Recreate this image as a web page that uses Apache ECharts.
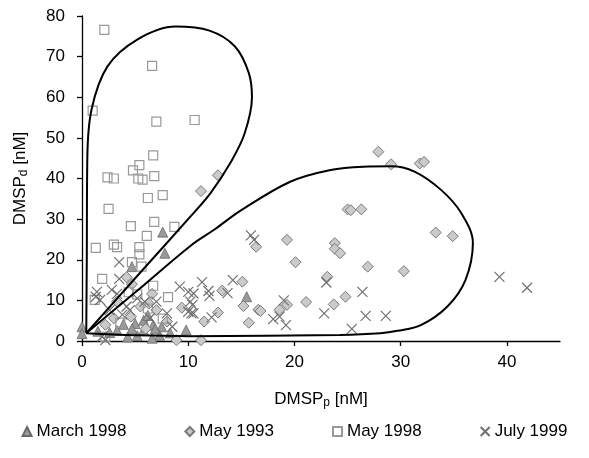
<!DOCTYPE html>
<html>
<head>
<meta charset="utf-8">
<script src="https://cdn.jsdelivr.net/npm/echarts@6/dist/echarts.min.js"></script>
<style>
	html,body{margin:0;padding:0;background:#fff;}
	#chart{width:589px;height:458px;}
</style>
</head>
<body>
<div id="chart"></div>
<script>
// 数据 [DMSPp, DMSPd]
const march1998 = [
	[0,3.5],[0,1.8],[3.9,4.1],[5.0,4.3],[5.8,5.1],[6.7,3.9],[7.5,3.5],[9.8,2.7],[2.6,2.1],[5.2,1.3],
	[7.3,1.4],[5.8,2.6],[6.6,0.7],[4.7,3.0],[7.6,26.8],[7.8,21.6],[4.7,18.3],[15.5,10.9],[4.3,1.0],[6.9,3.0],
	[8.3,2.0],[3.3,2.6],[1.5,2.4],[6.2,6.3]
];
const may1993 = [
	[27.9,46.6],[29.1,43.5],[31.8,43.7],[32.2,44.1],[12.8,40.8],[11.2,36.9],[25.0,32.4],[25.3,32.2],[26.3,32.4],[33.3,26.7],
	[34.9,25.8],[19.3,24.9],[16.4,23.2],[23.8,24.1],[23.8,22.7],[24.3,21.6],[20.1,19.4],[26.9,18.3],[30.3,17.2],[23.1,15.8],
	[15.1,14.6],[13.2,12.4],[24.8,10.9],[21.1,9.6],[23.7,9.0],[15.2,8.6],[12.8,7.0],[16.6,7.7],[18.6,7.7],[19.3,8.9],
	[11.5,4.8],[15.7,4.5],[11.2,0.2],[8.9,0.2],[4.2,15.7],[4.7,14.0],[6.6,11.6],[3.3,9.7],[5.5,8.5],[7.0,7.6],
	[4.6,6.0],[3.0,5.6],[8.0,4.8],[6.0,3.0],[9.4,8.2],[2.2,4.0],[16.8,7.4],[6.3,9.2]
];
const may1998 = [
	[2.1,76.6],[6.6,67.7],[1.0,56.7],[7.0,54.0],[10.6,54.4],[6.7,45.7],[5.4,43.3],[4.8,42.0],[2.4,40.3],[3.0,40.0],
	[5.3,40.0],[5.7,39.7],[6.8,40.6],[6.2,35.2],[7.6,35.9],[2.5,32.5],[4.6,28.3],[6.8,29.3],[6.1,25.9],[8.7,28.1],
	[1.3,22.9],[3.0,23.7],[3.3,23.1],[5.4,23.1],[5.4,21.3],[4.7,19.4],[1.9,15.3],[1.2,10.1],[5.6,18.3],[6.7,13.6],
	[8.1,10.8],[7.6,5.5],[4.4,12.0],[6.2,8.0],[2.2,1.0],[3.6,4.5],[5.2,11.5]
];
const july1999 = [
	[39.3,15.8],[41.9,13.1],[28.6,6.2],[23.0,14.4],[26.4,12.1],[22.8,6.8],[26.7,6.2],[25.4,3.0],[15.9,26.0],[16.2,24.9],
	[11.3,14.5],[14.2,15.0],[11.9,12.3],[12.0,11.1],[13.7,11.8],[19.0,10.0],[18.0,5.4],[19.2,3.9],[18.6,6.0],[12.2,5.8],
	[10.4,8.9],[10.3,6.8],[9.2,13.4],[10.0,12.1],[10.2,9.7],[10.0,7.2],[3.5,19.4],[3.5,15.3],[1.4,12.1],[2.8,12.6],
	[1.3,10.9],[1.7,10.1],[3.3,11.6],[2.2,0.2],[1.9,1.1],[5.2,10.5],[5.9,9.7],[4.5,7.6],[2.6,7.6],[6.4,5.6],
	[8.0,6.8],[4.2,8.5],[7.0,9.7],[10.5,11.7],[10.5,6.8],[8.5,3.5],[3.8,6.5]
];
// 包络线
const loopLeft = [
	[0.4,1.9],[0.45,20],[0.5,45],[0.9,57],[2.4,67.6],[5.2,74.2],[8.8,77.4],[12,76.4],[14.4,72.5],[15.7,66],
	[16,60],[15.3,51],[14,44],[12.1,36.4],[10.2,30.6],[5.3,16.3],[0.4,1.9]
];
const loopRight = [
	[0.4,1.9],[5.3,12.6],[10.2,23.4],[12.5,27.5],[15,32.2],[19.6,39.2],[23.4,42.1],[26.5,42.9],[29.1,43.0],[31.3,41.7],
	[33.8,37.2],[35.7,31.5],[36.8,24.1],[36.1,15.0],[34.4,8.5],[31.9,3.9],[29.7,2.5],[28.1,1.9],[24.3,1.5],[10.2,1.2],
	[5,1.4],[0.4,1.9]
];
const xTicks = [0,10,20,30,40];
const seriesNames = ['March 1998','May 1993','May 1998','July 1999'];

const font = 'Liberation Sans, Arial, sans-serif';
const crossPath = 'path://M0,0L10,10M10,0L0,10';

// 坐标轴名称 带下标
function axisName(sub){
	return '{n|DMSP}{s|' + sub + '}{n| [nM]}';
}
const nameRich = {
	n: { fontSize: 17, fontFamily: font, color: '#000', lineHeight: 18, verticalAlign: 'top' },
	s: { fontSize: 12, fontFamily: font, color: '#000', lineHeight: 12, padding: [10,0,0,0], verticalAlign: 'bottom' }
};

let chart = echarts.init(document.getElementById('chart'));
let option = {
	animation: false,
	backgroundColor: '#fff',
	textStyle: { fontFamily: font },
	grid: { left: 82, right: 29, top: 16, bottom: 117, outerBoundsMode: 'none' },
	legend: {
		data: seriesNames,
		bottom: 13,
		left: 'center',
		itemWidth: 9,
		itemHeight: 9,
		itemGap: 58,
		textStyle: { fontSize: 17, color: '#000', fontFamily: font }
	},
	xAxis: {
		type: 'value', min: 0, max: 45, interval: 10,
		name: axisName('p'), nameLocation: 'middle', nameGap: 50,
		nameTextStyle: { rich: nameRich },
		axisLine: { show: true, lineStyle: { color: '#000', width: 1.3 } },
		axisTick: { show: true, length: 5, customValues: xTicks, lineStyle: { color: '#000', width: 1.3 } },
		axisLabel: { customValues: xTicks, fontSize: 17, color: '#000', margin: 13 },
		splitLine: { show: false }
	},
	yAxis: {
		type: 'value', min: 0, max: 80, interval: 10,
		name: axisName('d'), nameLocation: 'middle', nameGap: 52, nameRotate: 90,
		nameTextStyle: { rich: nameRich },
		axisLine: { show: true, lineStyle: { color: '#000', width: 1.3 } },
		axisTick: { show: true, length: 5, lineStyle: { color: '#000', width: 1.3 } },
		axisLabel: { fontSize: 17, color: '#000', margin: 17 },
		splitLine: { show: false }
	},
	series: [
		{
			name: 'March 1998', type: 'scatter', data: march1998,
			symbol: 'triangle', symbolSize: 10,
			itemStyle: { color: '#9a9a9a', borderColor: '#6a6a6a', borderWidth: 0.8, opacity: 1 }
		},
		{
			name: 'May 1993', type: 'scatter', data: may1993,
			symbol: 'diamond', symbolSize: 11,
			itemStyle: { color: '#cacaca', borderColor: '#7a7a7a', borderWidth: 1, opacity: 1 }
		},
		{
			name: 'May 1998', type: 'scatter', data: may1998,
			symbol: 'rect', symbolSize: 9,
			itemStyle: { color: 'rgba(255,255,255,0)', borderColor: '#999', borderWidth: 1.2, opacity: 1 }
		},
		{
			name: 'July 1999', type: 'scatter', data: july1999,
			symbol: crossPath, symbolSize: 10,
			itemStyle: { color: 'rgba(0,0,0,0)', borderColor: '#707070', borderWidth: 1.2, opacity: 1 }
		},
		{
			name: 'loopLeft', type: 'line', data: loopLeft, smooth: 0.35,
			showSymbol: false, silent: true, z: 5,
			lineStyle: { color: '#000', width: 2 }
		},
		{
			name: 'loopRight', type: 'line', data: loopRight, smooth: 0.35,
			showSymbol: false, silent: true, z: 5,
			lineStyle: { color: '#000', width: 2 }
		}
	]
};
chart.setOption(option);
</script>
</body>
</html>
